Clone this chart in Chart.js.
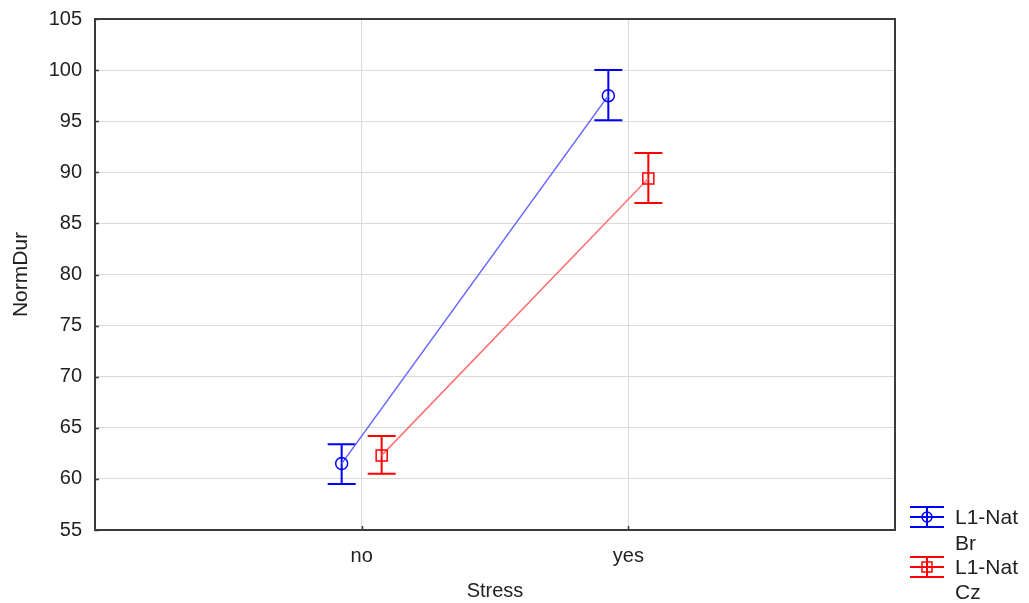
<!DOCTYPE html>
<html>
<head>
<meta charset="utf-8">
<script src="https://cdn.jsdelivr.net/npm/chart.js@4"></script>
<style>
  html, body { margin: 0; padding: 0; background: #fff; }
  #wrap { width: 1029px; height: 603px; }
</style>
</head>
<body>
<div id="wrap"><canvas id="chart" width="1029" height="603"></canvas></div>
<script>
// x categories sit at 1 and 2 on a 0..3 axis
const categories = ['no', 'yes'];
const groupOffset = 0.075;

// NormDur means with lower / upper error limits
const brMean = [61.5, 97.5];
const brLow  = [59.5, 95.1];
const brHigh = [63.4, 100.0];
const czMean = [62.3, 89.4];
const czLow  = [60.5, 87.0];
const czHigh = [64.2, 91.9];

const yMin = 55, yMax = 105, yStep = 5;
const legendLabels = [['L1-Nat', 'Br'], ['L1-Nat', 'Cz']];

const FONT = "'Liberation Sans', Arial, sans-serif";
const TEXT = '#222';
const BLUE = '#0000ff', RED = '#ff0000';

function pts(means, low, high, off) {
  return means.map((m, i) => ({ x: i + 1 + off, y: m, lo: low[i], hi: high[i] }));
}

const series = [
  { label: legendLabels[0].join(' '), data: pts(brMean, brLow, brHigh, -groupOffset),
    line: '#6464ff', bar: BLUE, style: 'circle', r: 6 },
  { label: legendLabels[1].join(' '), data: pts(czMean, czLow, czHigh, groupOffset),
    line: '#ff6e6e', bar: RED, style: 'rect', r: 7.8 }
];

// error bars, frame, inward ticks, legend
const extras = {
  id: 'extras',
  beforeDatasetsDraw(chart) {
    const { ctx, scales: { x, y } } = chart;
    ctx.save();
    ctx.lineWidth = 2;
    series.forEach(s => {
      ctx.strokeStyle = s.bar;
      s.data.forEach(p => {
        const px = x.getPixelForValue(p.x);
        const t = y.getPixelForValue(p.hi), b = y.getPixelForValue(p.lo);
        ctx.beginPath();
        ctx.moveTo(px, t); ctx.lineTo(px, b);
        ctx.moveTo(px - 14, t); ctx.lineTo(px + 14, t);
        ctx.moveTo(px - 14, b); ctx.lineTo(px + 14, b);
        ctx.stroke();
      });
    });
    ctx.restore();
  },
  afterDraw(chart) {
    const { ctx, chartArea: a, scales: { x, y } } = chart;
    ctx.save();
    ctx.strokeStyle = '#3a3a3a';
    ctx.lineWidth = 1.5;
    ctx.beginPath();
    y.ticks.forEach(t => {
      const py = Math.round(y.getPixelForValue(t.value)) + 0.5;
      ctx.moveTo(a.left, py); ctx.lineTo(a.left + 4, py);
    });
    [1, 2].forEach(v => {
      const px = Math.round(x.getPixelForValue(v)) + 0.5;
      ctx.moveTo(px, a.bottom); ctx.lineTo(px, a.bottom - 4);
    });
    ctx.stroke();
    ctx.lineWidth = 2;
    ctx.strokeRect(a.left, a.top, a.right - a.left, a.bottom - a.top);

    // legend, bottom right
    const lx = 910, lw = 34, tx = 955;
    const rows = [{ top: 507, mid: 517, bot: 527, textY: [518, 544] },
                  { top: 557, mid: 567, bot: 577, textY: [568, 593] }];
    series.forEach((s, i) => {
      const r = rows[i], cx = lx + lw / 2;
      ctx.strokeStyle = s.bar;
      ctx.lineWidth = 2;
      ctx.beginPath();
      [r.top, r.mid, r.bot].forEach(yy => { ctx.moveTo(lx, yy); ctx.lineTo(lx + lw, yy); });
      ctx.moveTo(cx, r.top); ctx.lineTo(cx, r.bot);
      ctx.stroke();
      ctx.lineWidth = 1.5;
      ctx.beginPath();
      if (s.style === 'circle') ctx.arc(cx, r.mid, 5, 0, Math.PI * 2);
      else ctx.rect(cx - 5, r.mid - 5, 10, 10);
      ctx.stroke();
      ctx.fillStyle = TEXT;
      ctx.font = '21px ' + FONT;
      ctx.textBaseline = 'middle';
      ctx.textAlign = 'left';
      legendLabels[i].forEach((t, k) => ctx.fillText(t, tx, r.textY[k]));
    });
    ctx.restore();
  }
};

new Chart(document.getElementById('chart'), {
  type: 'line',
  data: {
    datasets: series.map(s => ({
      label: s.label,
      data: s.data,
      borderColor: s.line,
      borderWidth: 1.5,
      pointStyle: s.style,
      pointRadius: s.r,
      pointBorderColor: s.bar,
      pointBorderWidth: 1.5,
      pointBackgroundColor: 'rgba(0,0,0,0)',
      tension: 0
    }))
  },
  options: {
    responsive: false,
    animation: false,
    layout: { padding: { left: 0, right: 134, top: 19, bottom: 0 } },
    plugins: { legend: { display: false }, tooltip: { enabled: false } },
    scales: {
      x: {
        type: 'linear', min: 0, max: 3,
        afterFit: s => { s.height = 73; s.paddingLeft = 0; s.paddingRight = 0; },
        afterBuildTicks: s => { s.ticks = [0, 1, 2, 3].map(v => ({ value: v })); },
        ticks: {
          padding: 14, color: TEXT, font: { family: FONT, size: 20 },
          callback: v => categories[v - 1] || ''
        },
        grid: { color: '#dadada', lineWidth: 1, drawTicks: false },
        border: { display: false },
        title: { display: true, text: 'Stress', color: TEXT,
                 font: { family: FONT, size: 20 }, padding: { top: 0, bottom: 0 } }
      },
      y: {
        min: yMin, max: yMax,
        afterFit: s => { s.width = 95; s.paddingTop = 0; s.paddingBottom = 0; },
        ticks: { stepSize: yStep, padding: 13, color: TEXT, font: { family: FONT, size: 20 } },
        grid: { color: '#dadada', lineWidth: 1, drawTicks: false },
        border: { display: false },
        title: { display: true, text: 'NormDur', color: TEXT,
                 font: { family: FONT, size: 21 }, padding: { top: 9, bottom: 0 } }
      }
    }
  },
  plugins: [extras]
});
</script>
</body>
</html>
